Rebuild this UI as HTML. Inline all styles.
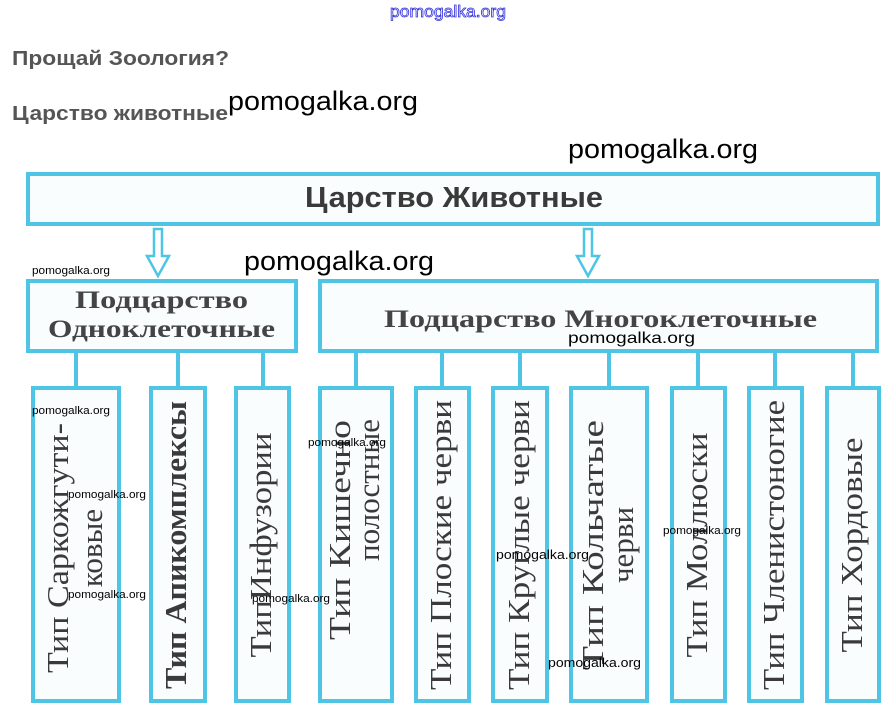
<!DOCTYPE html>
<html><head><meta charset="utf-8"><style>
html,body{margin:0;padding:0;background:#fff;width:895px;height:715px;overflow:hidden}
svg{display:block}
</style></head><body>
<svg width="895" height="715" viewBox="0 0 895 715" xmlns="http://www.w3.org/2000/svg">
<text x="448" y="17" text-anchor="middle" font-family="Liberation Sans, sans-serif" font-size="17" fill="#fff" stroke="#3333dd" stroke-width="0.8" textLength="116" lengthAdjust="spacingAndGlyphs">pomogalka.org</text>
<text x="12" y="65" font-family="Liberation Sans, sans-serif" font-weight="bold" font-size="20" fill="#555" textLength="217" lengthAdjust="spacingAndGlyphs">Прощай Зоология?</text>
<text x="12" y="120" font-family="Liberation Sans, sans-serif" font-weight="bold" font-size="20" fill="#555" textLength="216" lengthAdjust="spacingAndGlyphs">Царство животные</text>

<g fill="#fafdfe" stroke="#4ec5e5" stroke-width="4">
<rect x="28" y="174" width="850" height="50"/>
<rect x="28" y="281" width="268" height="70"/>
<rect x="320" y="281" width="557" height="70"/>
<rect x="33" y="388" width="86" height="313"/>
<rect x="151" y="388" width="54" height="313"/>
<rect x="236" y="388" width="53" height="313"/>
<rect x="320" y="388" width="72" height="313"/>
<rect x="416" y="388" width="53" height="313"/>
<rect x="493" y="388" width="54" height="313"/>
<rect x="571" y="388" width="76" height="313"/>
<rect x="672" y="388" width="53" height="313"/>
<rect x="749" y="388" width="53" height="313"/>
<rect x="827" y="388" width="52" height="313"/>
</g>
<g stroke="#4ec5e5" stroke-width="4">
<line x1="76" y1="353" x2="76" y2="386"/>
<line x1="178" y1="353" x2="178" y2="386"/>
<line x1="263" y1="353" x2="263" y2="386"/>
<line x1="356" y1="353" x2="356" y2="386"/>
<line x1="442" y1="353" x2="442" y2="386"/>
<line x1="520" y1="353" x2="520" y2="386"/>
<line x1="609" y1="353" x2="609" y2="386"/>
<line x1="698" y1="353" x2="698" y2="386"/>
<line x1="775" y1="353" x2="775" y2="386"/>
<line x1="853" y1="353" x2="853" y2="386"/>
</g>
<g fill="#fff" stroke="#4ec5e5" stroke-width="2.5">
<path d="M154 229 H162 V256 H169 L158 276 L147 256 H154 Z"/>
<path d="M584 229 H592 V256 H599 L588 276 L577 256 H584 Z"/>
</g>

<text x="305" y="207" font-family="Liberation Sans, sans-serif" font-weight="bold" font-size="29" fill="#3a3a3a" textLength="298" lengthAdjust="spacingAndGlyphs">Царство Животные</text>
<g font-family="Liberation Serif, serif" font-weight="bold" fill="#444" lengthAdjust="spacingAndGlyphs">
<text x="75" y="308" font-size="25" textLength="173" lengthAdjust="spacingAndGlyphs">Подцарство</text>
<text x="48" y="337" font-size="25" textLength="227" lengthAdjust="spacingAndGlyphs">Одноклеточные</text>
<text x="384" y="327" font-size="25" textLength="433" lengthAdjust="spacingAndGlyphs">Подцарство Многоклеточные</text>
</g>
<g font-family="Liberation Serif, serif" fill="#3a3a3a" font-size="31" text-anchor="middle">
<text transform="translate(68,548) rotate(-90)" textLength="250" lengthAdjust="spacingAndGlyphs">Тип Саркожгути-</text>
<text transform="translate(102,548) rotate(-90)">ковые</text>
<text transform="translate(186,545) rotate(-90)" textLength="288" lengthAdjust="spacingAndGlyphs" font-weight="bold">Тип Апикомплексы</text>
<text transform="translate(271,545) rotate(-90)" textLength="225" lengthAdjust="spacingAndGlyphs">ТипИнфузории</text>
<text transform="translate(350,530) rotate(-90)" textLength="220" lengthAdjust="spacingAndGlyphs">Тип Кишечно</text>
<text transform="translate(379,490) rotate(-90)">полостные</text>
<text transform="translate(451,545) rotate(-90)" textLength="290" lengthAdjust="spacingAndGlyphs">Тип Плоские черви</text>
<text transform="translate(529,545) rotate(-90)" textLength="290" lengthAdjust="spacingAndGlyphs">Тип Круглые черви</text>
<text transform="translate(603,545) rotate(-90)" textLength="250" lengthAdjust="spacingAndGlyphs">Тип Кольчатые</text>
<text transform="translate(633,545) rotate(-90)">черви</text>
<text transform="translate(707,545) rotate(-90)" textLength="225" lengthAdjust="spacingAndGlyphs">Тип Моллюски</text>
<text transform="translate(784,545) rotate(-90)" textLength="290" lengthAdjust="spacingAndGlyphs">Тип Членистоногие</text>
<text transform="translate(862,545) rotate(-90)" textLength="215" lengthAdjust="spacingAndGlyphs">Тип Хордовые</text>
</g>

<g font-family="Liberation Sans, sans-serif" fill="#000">
<text x="228" y="110" font-size="27" textLength="190" lengthAdjust="spacingAndGlyphs">pomogalka.org</text>
<text x="568" y="158" font-size="27" textLength="190" lengthAdjust="spacingAndGlyphs">pomogalka.org</text>
<text x="244" y="270" font-size="27" textLength="190" lengthAdjust="spacingAndGlyphs">pomogalka.org</text>
<text x="32" y="274" font-size="11" textLength="78" lengthAdjust="spacingAndGlyphs">pomogalka.org</text>
<text x="568" y="343" font-size="16" textLength="127" lengthAdjust="spacingAndGlyphs">pomogalka.org</text>
<text x="32" y="414" font-size="11" textLength="78" lengthAdjust="spacingAndGlyphs">pomogalka.org</text>
<text x="308" y="446" font-size="11" textLength="78" lengthAdjust="spacingAndGlyphs">pomogalka.org</text>
<text x="68" y="498" font-size="11" textLength="78" lengthAdjust="spacingAndGlyphs">pomogalka.org</text>
<text x="663" y="534" font-size="11" textLength="78" lengthAdjust="spacingAndGlyphs">pomogalka.org</text>
<text x="496" y="559" font-size="13" textLength="93" lengthAdjust="spacingAndGlyphs">pomogalka.org</text>
<text x="68" y="598" font-size="11" textLength="78" lengthAdjust="spacingAndGlyphs">pomogalka.org</text>
<text x="252" y="602" font-size="11" textLength="78" lengthAdjust="spacingAndGlyphs">pomogalka.org</text>
<text x="548" y="667" font-size="13" textLength="93" lengthAdjust="spacingAndGlyphs">pomogalka.org</text>
</g>
</svg>
</body></html>
